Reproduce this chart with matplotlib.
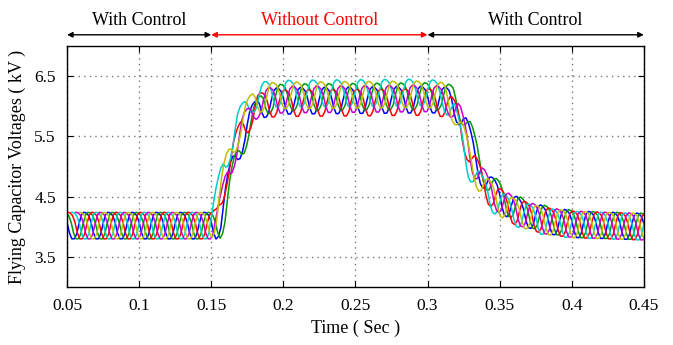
import numpy as np
import matplotlib.pyplot as plt

plt.rcParams['font.family'] = ['Liberation Serif', 'DejaVu Serif']

# Mean flying-capacitor voltage (kV)
t_knots = [0.05, 0.150, 0.153, 0.160, 0.170, 0.180, 0.190, 0.20, 0.30, 0.312, 0.320, 0.330, 0.340, 0.350, 0.360, 0.380, 0.400, 0.450]
v_knots = [4.02, 4.02, 4.15, 4.95, 5.65, 6.05, 6.12, 6.13, 6.15, 6.12, 5.85, 5.05, 4.62, 4.40, 4.25, 4.10, 4.04, 4.00]
# Ripple half-amplitude along time (kV)
amp_t = [0.05, 0.15, 0.19, 0.31, 0.34, 0.45]
amp_v = [0.22, 0.22, 0.22, 0.22, 0.22, 0.22]
# One ripple cycle (60 Hz), normalised shape
ripple_shape = [1.0, 0.95, 0.75, 0.25, -0.55, -1.0, -1.0, -0.65, 0.15, 0.8]
ripple_freq = 60.0

# Capacitor traces: colour, phase (fraction of a cycle), transition delay (s),
# level offset while uncontrolled (kV)
colors = ['#0000ff', '#009900', '#ff0000', '#00cccc', '#cc00cc', '#bfbf00']
phases = [0.0, 0.17, 0.33, 0.5, 0.67, 0.83]
delays = [0.004, 0.006, 0.001, -0.002, 0.002, 0.0]
free_offsets = [-0.04, 0.02, -0.08, 0.08, -0.02, 0.05]
free_t = [0.05, 0.15, 0.19, 0.31, 0.33, 0.45]
free_w = [0.0, 0.0, 1.0, 1.0, 0.0, 0.0]

fig = plt.figure(figsize=(6.73, 3.45), dpi=100)
ax = fig.add_axes([0.0996, 0.168, 0.857, 0.699])

period = 1.0 / ripple_freq
n = len(ripple_shape)
for c, ph, d, off in zip(colors, phases, delays, free_offsets):
    k = np.arange(int(0.42 / period) * n)
    t = 0.045 + ph * period + k * period / n
    base = np.interp(t - d, t_knots, v_knots) + off * np.interp(t, free_t, free_w)
    amp = np.interp(t, amp_t, amp_v)
    shape = np.array(ripple_shape)[k % n]
    ax.plot(t, base + amp * shape, color=c, lw=1.1)

ax.set_xlim(0.05, 0.45)
ax.set_ylim(3.0, 7.0)
ax.set_xticks([0.05, 0.1, 0.15, 0.2, 0.25, 0.3, 0.35, 0.4, 0.45])
ax.set_xticklabels(['0.05', '0.1', '0.15', '0.2', '0.25', '0.3', '0.35', '0.4', '0.45'])
ax.set_yticks([3.5, 4.5, 5.5, 6.5])
ax.tick_params(labelsize=12.5, direction='in', length=4, top=True, right=True, pad=8)
ax.grid(True, linestyle=(0, (1, 3)), color='#777777', lw=1.0)
for s in ax.spines.values():
    s.set_linewidth(1.0)
ax.set_xlabel('Time ( Sec )', fontsize=13)
ax.set_ylabel('Flying Capacitor Voltages ( kV )', fontsize=13, labelpad=6)

# Control region arrows above the axes
regions = [(0.05, 0.15, 'With Control', 'black'),
           (0.15, 0.30, 'Without Control', 'red'),
           (0.30, 0.45, 'With Control', 'black')]
trans = ax.get_xaxis_transform()
for x0, x1, label, col in regions:
    ax.annotate('', xy=(x0, 1.046), xytext=(x1, 1.046), xycoords=trans, textcoords=trans,
                arrowprops=dict(arrowstyle='<|-|>', color=col, lw=1.0, mutation_scale=8,
                                shrinkA=0, shrinkB=0), annotation_clip=False)
    ax.text((x0 + x1) / 2, 1.07, label, transform=trans, ha='center', va='bottom',
            color=col, fontsize=13)

fig.savefig('out.png', dpi=100)
